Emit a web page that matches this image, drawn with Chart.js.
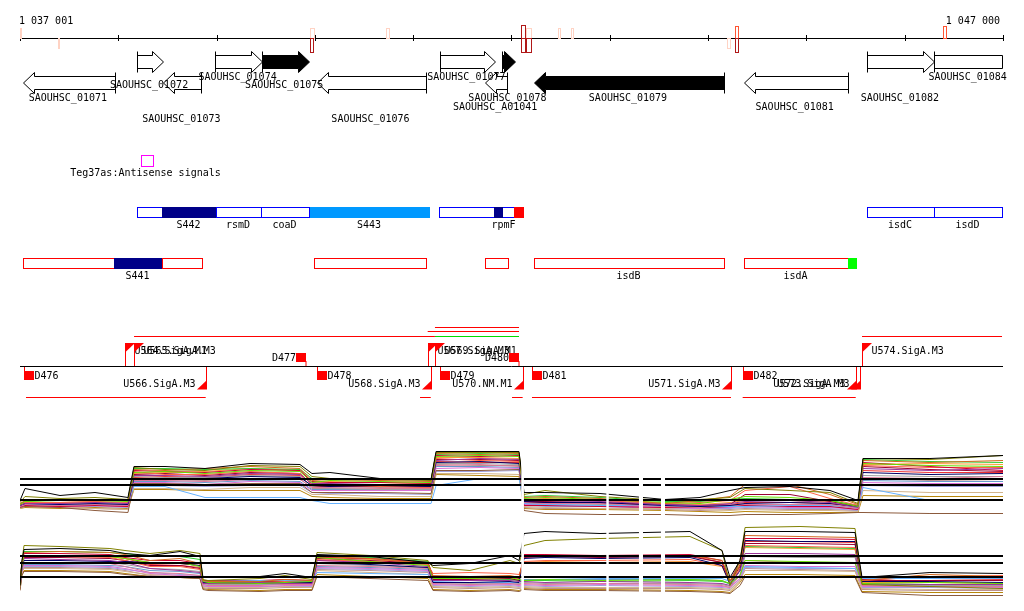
<!DOCTYPE html>
<html><head><meta charset="utf-8">
<script src="https://cdn.jsdelivr.net/npm/chart.js@4"></script>
<style>html,body{margin:0;padding:0;background:#fff;}canvas{display:block;}</style>
</head><body>
<canvas id="c" width="1024" height="611"></canvas>
<script>
// ---------------- DATA ----------------
const viewStart = 1037001, viewEnd = 1047000;
const axisTicks = [1037001,1038000,1039000,1040000,1041000,1042000,1043000,1044000,1045000,1046000,1047000];
const axisLabels = ['1 037 001', '1 047 000'];

// small signal marks along the coordinate axis
const markStart = [1037006,1037383,1039946,1039954,1040724,1042097,1042097,1042148,1042148,1042474,1042603,1044190,1044277,1044277,1046393];
const markEnd   = [1037016,1037393,1039984,1039984,1040751,1042138,1042138,1042196,1042196,1042494,1042626,1044223,1044312,1044312,1046427];
const markSide  = [1,-1,1,-1,1,1,-1,1,-1,1,1,-1,1,-1,1];
const markLevel = ['pale','pale','pale','dark','pale','dark','dark','pale','dark','pale','pale','pale','red','dark','red'];

// genes
const geneNames  = ['SAOUHSC_01071','SAOUHSC_01072','SAOUHSC_01073','SAOUHSC_01074','SAOUHSC_01075','SAOUHSC_01076','SAOUHSC_01077','SAOUHSC_A01041','SAOUHSC_01078','SAOUHSC_01079','SAOUHSC_01081','SAOUHSC_01082','SAOUHSC_01084'];
const geneStart  = [1037032,1038194,1038459,1038988,1039460,1040019,1041270,1041731,1041907,1042232,1044363,1045620,1046301];
const geneEnd    = [1037964,1038453,1038845,1039460,1039938,1041134,1041833,1041958,1042033,1044159,1045420,1046301,1047450];
const geneStrand = [-1,1,-1,1,1,-1,1,-1,1,-1,-1,1,1];
const geneHighlighted = [0,0,0,0,1,0,0,0,1,1,0,0,0];

// antisense signals
const asStart = [1038235], asEnd = [1038351], asLabel = ['Teg37as:Antisense signals'];

// annotated features (sense row = 1, antisense row = -1)
const featStart  = [1038194,1038445,1038992,1039456,1039951,1041266,1041823,1041823,1042029,1045620,1046301, 1037035,1037957,1038445,1039995,1041734,1042232,1044363,1045420];
const featEnd    = [1038445,1038992,1039456,1039938,1041158,1041823,1042029,1041904,1042114,1046301,1046993, 1037957,1038445,1038849,1041134,1041962,1044159,1045420,1045505];
const featStrand = [1,1,1,1,1,1,1,1,1,1,1, -1,-1,-1,-1,-1,-1,-1,-1];
const featKind   = ['plain','dark','plain','plain','light','plain','plain','dark','red','plain','plain', 'plain','dark','plain','plain','plain','plain','plain','green'];
const featLabel  = ['','S442','rsmD','coaD','S443','','rpmF','','','isdC','isdD', '','S441','','','','isdB','isdA',''];

// transcription units
const tuStart = [1038161,1041222,1045566,1041148,1041222,1037062,1041070,1042006,1042209,1044352];
const tuEnd   = [1041222,1042077,1046990,1042077,1042077,1038890,1041179,1042114,1044233,1045502];
const tuLevel = [1,1,1,2,3,-1,-1,-1,-1,-1];
const tuKind  = ['red','green','red','red','red','red','red','red','red','red'];

// promoters
const promPos    = [1038072,1038164,1041151,1041222,1045566,1038890,1041179,1042114,1044233,1045502,1045545];
const promStrand = [1,1,1,1,1,-1,-1,-1,-1,-1,-1];
const promLabel  = ['U564.SigA.M1','U565.SigA.M3','U567.SigA.M3','U569.SigA.M1','U574.SigA.M3','U566.SigA.M3','U568.SigA.M3','U570.NM.M1','U571.SigA.M3','U572.SigA.M3','U573.SigA.M3'];

// terminators
const termPos    = [1039910,1042077,1037045,1040022,1041273,1042209,1044358];
const termStrand = [1,1,-1,-1,-1,-1,-1];
const termLabel  = ['D477','D480','D476','D478','D479','D481','D482'];

// probe gaps (no data)
const gapStart = [1042100,1042965,1043297,1043521];
const gapEnd   = [1042127,1042990,1043338,1043562];

// expression thresholds
const topThresholds = [10.15, 9.55, 8.05];
const botThresholds = [10.25, 9.55, 8.15];

// expression profiles, panel 1 (sense)
const topX = [1037001,1037052,1037408,1037764,1038099,1038160,1038476,1038883,1039341,1039849,1039971,1040154,1040663,1041182,1041233,1041680,1042077,1042128,1042341,1042901,1043562,1043918,1044223,1044376,1044833,1045240,1045525,1045576,1046257,1047000];
const topBlack   = [8.0,9.2,8.5,8.8,8.3,11.4,11.4,11.2,11.7,11.6,10.7,10.8,10.2,10.1,12.9,12.9,12.9,8.8,8.8,8.7,8.1,8.3,9.0,9.3,9.4,9.0,8.0,12.2,12.2,12.5];
const topOlive   = [7.8,8.4,8.2,8.3,8.1,11.3,11.1,11.0,11.5,11.4,10.4,10.2,10.1,10.0,12.8,12.8,12.8,8.6,9.0,8.4,8.0,8.1,8.3,9.2,9.0,8.8,7.7,12.2,12.1,12.5];
const topChoco   = [7.7,8.0,8.0,8.1,8.0,11.1,11.0,11.2,11.4,11.2,10.0,10.1,10.0,9.9,12.7,12.6,12.7,8.3,8.4,8.2,7.7,8.0,8.4,9.6,9.6,8.6,7.6,12.0,11.8,12.0];
const topGreen   = [7.6,7.9,8.0,8.0,7.9,10.8,10.9,10.7,11.0,10.9,9.8,10.0,9.9,9.8,12.4,12.5,12.4,8.2,8.3,8.1,7.8,7.7,8.1,8.4,8.3,8.0,7.4,11.7,11.5,11.4];
const topPurple  = [7.5,7.7,7.7,7.8,7.7,10.5,10.5,10.4,10.7,10.6,9.7,9.7,9.6,9.5,12.0,12.2,12.1,8.0,8.0,7.9,7.6,7.5,7.7,7.9,8.0,7.8,7.3,11.2,11.0,11.2];
const topNavy    = [7.5,7.7,7.6,7.7,7.6,10.2,10.2,10.2,10.4,10.3,9.5,9.4,9.5,9.4,11.8,11.9,11.7,7.9,7.8,7.8,7.5,7.4,7.5,7.7,7.8,7.7,7.4,10.8,10.6,10.7];
const topPink    = [7.4,7.6,7.5,7.6,7.5,10.0,10.0,9.9,10.1,10.1,9.3,9.3,9.2,9.2,11.5,11.6,11.4,7.8,7.7,7.7,7.4,7.3,7.6,7.6,7.6,7.6,7.2,10.3,10.2,10.4];
const topSky     = [7.5,7.6,7.6,7.7,7.7,9.4,9.4,8.3,8.3,8.3,8.0,7.7,7.7,7.7,9.5,10.2,10.2,7.7,7.6,7.5,7.5,7.4,7.4,7.4,7.5,7.5,7.3,9.3,8.0,8.0];
const topCrimson = [7.4,7.5,7.4,7.5,7.4,11.0,10.9,10.8,11.1,11.0,9.9,9.8,9.8,9.7,12.5,12.4,12.5,7.5,7.5,7.4,7.3,7.3,7.4,7.5,7.4,7.4,7.1,11.8,11.4,11.0];
const topBrown   = [7.3,7.4,7.3,7.0,6.8,9.7,9.7,9.6,9.7,9.7,8.8,8.8,8.8,8.7,11.0,11.0,11.1,7.0,6.7,6.6,6.6,6.5,6.5,6.6,6.6,6.7,6.8,6.8,6.7,6.7];
const topSalmon  = [7.6,7.8,7.8,7.9,7.8,10.9,10.6,10.6,10.9,10.7,9.6,9.6,9.4,9.3,12.2,12.0,11.9,8.1,8.1,8.0,7.7,7.8,8.0,9.0,9.4,8.2,7.5,11.5,11.3,11.3];
const topOrchid  = [7.3,7.5,7.4,7.5,7.4,9.8,9.8,9.6,9.9,9.8,9.0,9.0,9.0,9.0,11.2,11.3,11.2,7.6,7.5,7.5,7.3,7.2,7.3,7.4,7.3,7.3,7.1,9.8,9.7,9.7];
const topGray    = [7.4,7.5,7.5,7.6,7.5,10.4,10.3,10.3,10.5,10.4,9.4,9.2,9.1,9.1,11.7,11.7,11.6,7.7,7.7,7.6,7.5,7.4,7.5,7.6,7.6,7.5,7.2,10.5,10.4,10.4];
const topTan     = [7.2,7.4,7.3,7.2,7.1,9.2,9.2,9.1,9.3,9.3,8.6,8.6,8.4,8.4,10.7,10.7,10.6,7.4,7.3,7.2,7.2,7.1,7.0,7.1,7.0,7.0,6.9,9.0,8.8,8.8];
const topMaroon  = [7.5,7.6,7.5,7.6,7.5,10.6,10.7,10.5,10.8,10.7,9.6,9.5,9.5,9.4,12.1,12.1,12.0,7.9,7.9,7.8,7.6,7.5,7.6,8.6,8.6,7.9,7.4,11.4,11.1,10.9];
const topLavender= [7.3,7.5,7.4,7.4,7.3,9.6,9.5,9.4,9.5,9.5,8.8,8.7,8.7,8.6,10.9,10.9,11.0,7.5,7.4,7.4,7.2,7.2,7.2,7.3,7.2,7.2,7.0,9.5,9.4,9.4];
const topLime    = [7.7,7.9,8.1,8.1,8.0,11.2,11.2,11.1,11.2,11.1,10.2,10.1,10.1,10.1,12.6,12.7,12.6,8.4,8.5,8.3,7.9,7.9,8.1,8.2,8.1,8.0,7.5,12.1,11.9,11.8];
const topOrange  = [7.6,7.8,7.8,7.9,7.7,10.7,10.8,10.9,11.2,11.0,9.8,9.9,9.8,9.7,12.3,12.3,12.2,8.1,8.2,8.0,7.7,7.6,7.8,8.0,8.0,7.9,7.5,11.6,11.7,11.6];
const topSteel   = [7.4,7.5,7.5,7.5,7.4,9.9,9.9,9.8,10.0,9.9,9.1,9.1,9.1,9.0,11.4,11.4,11.3,7.6,7.6,7.5,7.4,7.3,7.3,7.5,7.4,7.4,7.1,10.0,9.9,9.9];
const topRosy    = [7.3,7.4,7.3,7.2,7.1,10.1,10.1,10.0,10.2,10.2,9.2,9.2,9.3,9.2,11.6,11.5,11.5,7.3,7.2,7.2,7.1,7.0,7.1,7.2,7.1,7.1,7.0,10.2,10.0,10.1];
const topGold    = [7.2,7.3,7.2,7.3,7.2,9.1,9.1,9.0,9.0,9.0,8.4,8.3,8.2,8.2,10.6,10.5,10.4,7.2,7.1,7.1,7.0,6.9,6.8,6.9,6.8,6.8,6.8,8.5,8.4,8.4];
const topRed     = [7.5,7.7,7.7,7.8,7.6,10.3,10.4,10.3,10.6,10.5,9.4,9.4,9.4,9.3,11.9,11.8,11.8,7.8,7.8,7.7,7.5,7.5,7.6,7.8,7.8,7.7,7.3,11.0,10.8,10.8];

// expression profiles, panel 2 (antisense)
const botX = [1037001,1037021,1037042,1037408,1037916,1038069,1038323,1038629,1038832,1038862,1038913,1039442,1039697,1039971,1040022,1040561,1041151,1041202,1041578,1041985,1042077,1042128,1042341,1042901,1043816,1044142,1044223,1044325,1044376,1044935,1045495,1045566,1046257,1047000];
const botBlack   = [7.3,9.8,10.9,11.0,10.8,10.5,10.3,10.7,10.2,8.1,8.1,8.2,8.5,8.1,10.4,10.2,9.6,9.3,9.5,10.3,9.8,12.5,12.7,12.5,12.7,10.8,8.1,9.8,12.7,12.7,12.6,8.1,8.6,8.5];
const botOlive   = [7.2,9.8,11.3,11.2,11.0,10.8,10.5,10.8,10.5,7.9,7.8,8.0,8.3,7.9,10.6,10.3,9.8,9.1,8.8,9.8,9.5,11.3,11.8,12.0,12.2,10.8,7.3,9.8,13.1,13.2,13.0,7.4,7.2,7.0];
const botChoco   = [7.4,9.6,10.6,10.7,10.6,10.4,9.8,10.0,9.5,7.8,7.7,7.7,7.9,7.8,10.2,10.0,9.5,8.3,8.2,8.3,8.1,10.2,10.3,10.2,10.3,9.8,7.8,9.3,12.3,12.2,12.1,7.8,8.4,8.2];
const botGreen   = [7.5,9.3,10.3,10.2,10.2,10.0,9.6,9.6,9.2,7.7,7.6,7.5,7.6,7.7,10.1,9.7,9.3,8.0,8.0,8.1,7.9,7.8,7.9,7.8,7.9,7.8,7.5,8.3,9.8,9.7,9.6,7.5,7.6,7.5];
const botPurple  = [7.3,9.2,10.0,9.9,9.8,9.6,9.0,8.8,8.6,7.5,7.5,7.6,7.5,7.5,9.8,9.6,9.2,7.8,7.8,7.8,7.7,7.7,7.6,7.7,7.6,7.5,7.3,8.8,10.5,10.5,10.4,7.5,7.4,7.4];
const botNavy    = [7.4,9.1,9.8,9.8,9.7,9.7,9.6,9.5,9.3,7.6,7.6,7.5,7.6,7.6,9.6,9.4,9.1,7.6,7.6,7.7,7.6,10.0,10.1,10.0,10.1,9.3,7.4,8.8,11.8,11.7,11.7,7.7,7.7,7.6];
const botPink    = [7.2,9.0,9.5,9.5,9.5,9.2,8.6,8.5,8.3,7.4,7.3,7.3,7.4,7.4,9.3,9.2,9.0,7.5,7.4,7.5,7.4,7.5,7.4,7.5,7.4,7.3,7.1,8.3,9.8,9.6,9.6,7.3,7.2,7.2];
const botSky     = [7.8,8.1,8.1,8.1,8.1,8.1,8.1,8.1,8.1,7.7,7.7,7.8,7.8,7.7,8.6,8.5,8.4,7.7,7.6,7.6,7.6,8.1,8.1,8.0,8.0,8.0,7.7,8.3,9.2,9.1,9.0,8.0,8.0,8.0];
const botCrimson = [7.3,9.6,10.5,10.5,10.4,10.1,9.8,9.8,9.5,7.8,7.8,7.8,7.9,7.8,10.1,10.0,9.6,8.2,8.1,8.2,8.0,10.4,10.4,10.3,10.4,9.8,7.7,9.8,12.0,12.0,11.9,7.9,8.1,8.1];
const botBrown   = [6.8,8.3,8.7,8.7,8.6,8.4,8.2,8.1,8.0,6.9,6.8,6.7,6.8,6.8,8.2,8.0,7.8,6.8,6.7,6.8,6.7,6.9,6.8,6.8,6.7,6.6,6.5,7.3,8.2,8.2,8.1,6.6,6.3,6.3];
const botSalmon  = [7.4,9.5,10.2,10.2,10.1,9.8,9.2,9.2,8.9,7.6,7.6,7.6,7.7,7.6,9.9,9.7,9.4,8.5,8.6,8.5,8.4,9.7,9.8,9.8,9.9,9.3,7.6,9.0,11.3,11.2,11.1,7.8,8.2,8.3];
const botOrchid  = [7.1,8.8,9.3,9.3,9.2,9.0,8.5,8.3,8.2,7.3,7.2,7.2,7.3,7.3,9.1,9.0,8.8,7.4,7.3,7.4,7.3,7.4,7.3,7.4,7.3,7.2,7.1,8.0,9.3,9.2,9.2,7.2,7.2,7.1];
const botGray    = [7.2,9.0,9.6,9.6,9.6,9.4,9.0,8.9,8.7,7.5,7.4,7.4,7.5,7.4,9.5,9.3,9.1,7.6,7.5,7.6,7.5,7.6,7.5,7.5,7.5,7.4,7.2,8.4,10.2,10.1,10.1,7.4,7.3,7.3];
const botTan     = [7.0,8.6,9.0,9.0,8.9,8.7,8.4,8.3,8.1,7.2,7.1,7.1,7.2,7.1,8.8,8.6,8.4,7.2,7.1,7.2,7.1,7.2,7.1,7.1,7.1,7.0,6.9,7.8,8.8,8.8,8.7,7.0,6.9,6.9];
const botMaroon  = [7.3,9.4,10.1,10.1,10.0,9.8,9.3,9.3,9.0,7.7,7.6,7.7,7.7,7.7,10.0,9.8,9.5,7.9,7.9,8.0,7.8,10.1,10.2,10.1,10.2,9.6,7.6,9.2,11.5,11.5,11.4,7.8,7.8,7.8];
const botLavender= [7.1,8.7,9.2,9.2,9.1,8.9,8.6,8.4,8.3,7.2,7.2,7.2,7.2,7.2,9.0,8.9,8.7,7.3,7.2,7.3,7.2,7.3,7.2,7.3,7.2,7.1,7.0,8.0,9.1,9.0,9.0,7.1,7.1,7.0];
const botLime    = [7.4,9.6,10.7,10.7,10.6,10.5,10.2,10.2,9.9,7.7,7.6,7.7,7.8,7.7,10.3,10.1,9.7,7.9,7.8,7.9,7.8,7.8,7.8,7.7,7.8,7.7,7.5,8.8,11.2,11.1,11.0,7.4,7.4,7.3];
const botOrange  = [7.3,9.4,10.3,10.3,10.2,10.0,9.6,9.5,9.3,7.6,7.5,7.5,7.6,7.6,10.2,9.9,9.5,8.1,8.0,8.1,7.9,9.6,9.7,9.6,9.7,9.2,7.5,9.0,11.1,11.0,10.9,7.6,7.6,7.5];
const botSteel   = [7.2,8.9,9.4,9.4,9.3,9.2,8.8,8.7,8.5,7.4,7.3,7.4,7.4,7.4,9.2,9.1,8.9,7.5,7.4,7.5,7.4,7.9,7.9,7.9,7.9,7.8,7.4,8.3,9.6,9.5,9.5,7.6,7.6,7.6];
const botRosy    = [7.1,8.7,9.1,9.1,9.0,8.8,8.3,8.2,8.0,7.1,7.0,7.0,7.1,7.1,8.9,8.8,8.6,7.1,7.0,7.1,7.0,7.1,7.0,7.0,7.0,6.9,6.8,7.8,9.0,8.9,8.8,6.9,6.8,6.8];
const botGold    = [6.9,8.4,8.8,8.8,8.7,8.5,8.2,8.1,8.0,7.0,6.9,6.8,6.9,6.9,8.4,8.2,8.0,6.9,6.8,6.9,6.8,7.0,6.9,6.9,6.8,6.7,6.6,7.6,8.4,8.4,8.3,6.7,6.6,6.6];
const botRed     = [7.3,9.5,10.2,10.2,10.2,10.0,9.4,9.3,9.1,7.6,7.5,7.6,7.6,7.6,9.8,9.7,9.4,8.0,8.1,8.0,7.9,10.3,10.3,10.2,10.3,9.6,7.6,9.4,11.7,11.7,11.6,7.7,7.8,7.9];

// ---------------- STYLE ----------------
const seriesColors = ['#000000','#808000','#D2691E','#66DD00','#993399','#000066','#DD7799','#66B2FF','#CC0033','#8B5A3C','#FF6347','#DA70D6','#A0A0A0','#D2B48C','#990033','#A0A0DD','#33CC33','#FF9933','#6699CC','#BC8F8F','#B8860B','#EE3333'];
const topSeries = [topBlack,topOlive,topChoco,topGreen,topPurple,topNavy,topPink,topSky,topCrimson,topBrown,topSalmon,topOrchid,topGray,topTan,topMaroon,topLavender,topLime,topOrange,topSteel,topRosy,topGold,topRed];
const botSeries = [botBlack,botOlive,botChoco,botGreen,botPurple,botNavy,botPink,botSky,botCrimson,botBrown,botSalmon,botOrchid,botGray,botTan,botMaroon,botLavender,botLime,botOrange,botSteel,botRosy,botGold,botRed];

const FONT = '10px "DejaVu Sans Mono", monospace';
const LABEL_BASE = {'SAOUHSC_01071':101,'SAOUHSC_01072':88,'SAOUHSC_01073':121.5,'SAOUHSC_01074':79.5,'SAOUHSC_01075':88,'SAOUHSC_01076':121.5,'SAOUHSC_01077':79.5,'SAOUHSC_A01041':110,'SAOUHSC_01078':101,'SAOUHSC_01079':101,'SAOUHSC_01081':110,'SAOUHSC_01082':101,'SAOUHSC_01084':79.5};
const MARK_STYLE = {pale:{c:'#FFD3C4',a:[28,38],b:[38,48]}, red:{c:'#FF5533',a:[26,38],b:[38,52]}, dark:{c:'#B01818',a:[25,38],b:[38,52]}};
const FEAT_FILL = {plain:'#FFFFFF', dark:'#000088', light:'#0099FF', red:'#FF0000', green:'#00FF00'};
const TU_Y = {'1':336.5,'2':331.5,'3':327.5,'-1':397.5};

const trackPlugin = {
  id: 'tracks',
  afterDatasetsDraw(chart) {
    const ctx = chart.ctx, xs = chart.scales.x;
    const X = g => xs.getPixelForValue(g);
    const S = v => Math.round(v) + 0.5;
    const line = (x1,y1,x2,y2) => { ctx.beginPath(); ctx.moveTo(x1,y1); ctx.lineTo(x2,y2); ctx.stroke(); };
    ctx.save();
    // gaps
    ctx.fillStyle = '#fff';
    gapStart.forEach((g,i) => { const a = X(g), b = X(gapEnd[i]); ctx.fillRect(a, 438, b - a, 173); });
    ctx.font = FONT; ctx.textBaseline = 'alphabetic';
    ctx.lineWidth = 1; ctx.strokeStyle = '#000'; ctx.fillStyle = '#000';
    const L = X(viewStart), R = X(viewEnd);
    // axis
    line(L, 38.5, R, 38.5);
    axisTicks.forEach(t => { const x = S(X(t)); line(x, 35, x, 41); });
    ctx.textAlign = 'left'; ctx.fillText(axisLabels[0], L - 1, 24);
    ctx.textAlign = 'right'; ctx.fillText(axisLabels[1], R - 3, 24);
    // axis marks
    markStart.forEach((s,i) => {
      const st = MARK_STYLE[markLevel[i]];
      const x0 = S(X(s)), w = Math.max(1, Math.round(X(markEnd[i]) - X(s)));
      const yy = markSide[i] > 0 ? st.a : st.b;
      ctx.strokeStyle = st.c;
      ctx.strokeRect(x0, yy[0] + 0.5, w, yy[1] - yy[0]);
    });
    // genes
    ctx.strokeStyle = '#000'; ctx.lineWidth = 1;
    geneNames.forEach((name,i) => {
      const fwd = geneStrand[i] > 0;
      let x0 = X(geneStart[i]), x1 = X(geneEnd[i]);
      const trunc = geneEnd[i] > viewEnd;
      if (trunc) x1 = X(viewEnd) - 1;
      x0 = Math.round(x0) + 0.5; x1 = Math.round(x1) + 0.5;
      const top = fwd ? 51.5 : 72.5, bot = top + 21, bT = top + 4, bB = top + 17, mid = top + 10.5;
      const head = trunc ? 0 : Math.min(11, x1 - x0);
      ctx.beginPath();
      if (fwd) {
        const xh = x1 - head;
        ctx.moveTo(x0, bT); ctx.lineTo(xh, bT);
        if (head > 0) { ctx.lineTo(xh, top); ctx.lineTo(x1, mid); ctx.lineTo(xh, bot); ctx.lineTo(xh, bB); }
        else { ctx.lineTo(x1, bB); }
        ctx.lineTo(x0, bB); ctx.closePath();
      } else {
        const xh = x0 + head;
        ctx.moveTo(x1, bT); ctx.lineTo(xh, bT); ctx.lineTo(xh, top); ctx.lineTo(x0, mid);
        ctx.lineTo(xh, bot); ctx.lineTo(xh, bB); ctx.lineTo(x1, bB); ctx.closePath();
      }
      ctx.fillStyle = geneHighlighted[i] ? '#000' : '#fff';
      ctx.fill(); ctx.stroke();
      const xe = fwd ? x0 : x1;
      line(xe, top, xe, bot);
    });
    ctx.fillStyle = '#000'; ctx.textAlign = 'center';
    geneNames.forEach((name,i) => {
      const e = Math.min(geneEnd[i], viewEnd);
      const cx = (X(geneStart[i]) + X(e)) / 2 - 1;
      ctx.fillText(name, cx, LABEL_BASE[name]);
    });
    // antisense signals
    asStart.forEach((s,i) => {
      const x0 = S(X(s)), x1 = S(X(asEnd[i]));
      ctx.strokeStyle = '#FF00FF'; ctx.strokeRect(x0, 155.5, x1 - x0, 11);
      ctx.fillStyle = '#000'; ctx.textAlign = 'center';
      ctx.fillText(asLabel[i], (x0 + x1) / 2 - 2, 175.5);
    });
    // features
    featStart.forEach((s,i) => {
      const x0 = S(X(s)), x1 = S(X(featEnd[i]));
      const top = featStrand[i] > 0 ? 207.5 : 258.5;
      const border = featStrand[i] > 0 ? '#0000FF' : '#FF0000';
      const k = featKind[i];
      ctx.fillStyle = FEAT_FILL[k];
      ctx.fillRect(x0, top, x1 - x0, 10);
      ctx.strokeStyle = k === 'plain' ? border : FEAT_FILL[k];
      if (k === 'dark') ctx.strokeStyle = '#000088';
      ctx.strokeRect(x0, top, x1 - x0, 10);
      if (featLabel[i]) {
        ctx.fillStyle = '#000'; ctx.textAlign = 'center';
        ctx.fillText(featLabel[i], (x0 + x1) / 2 - 1, featStrand[i] > 0 ? 227.5 : 278.5);
      }
    });
    // regulation track baseline
    ctx.strokeStyle = '#000'; line(L, 366.5, R, 366.5);
    // transcription units
    tuStart.forEach((s,i) => {
      ctx.strokeStyle = tuKind[i] === 'green' ? '#00DD00' : '#FF0000';
      const y = TU_Y[String(tuLevel[i])];
      line(X(s), y, X(tuEnd[i]), y);
    });
    // promoters
    ctx.lineWidth = 1;
    promPos.forEach((p,i) => {
      const x = S(X(p));
      ctx.strokeStyle = '#FF0000'; ctx.fillStyle = '#FF0000';
      if (promStrand[i] > 0) {
        line(x, 366, x, 343);
        ctx.beginPath(); ctx.moveTo(x - 0.5, 343); ctx.lineTo(x + 9.5, 343); ctx.lineTo(x - 0.5, 352.5); ctx.closePath(); ctx.fill();
        ctx.fillStyle = '#000'; ctx.textAlign = 'left'; ctx.fillText(promLabel[i], x + 9, 354);
      } else {
        line(x, 367, x, 389);
        ctx.beginPath(); ctx.moveTo(x + 0.5, 389.5); ctx.lineTo(x - 9.5, 389.5); ctx.lineTo(x + 0.5, 380); ctx.closePath(); ctx.fill();
        ctx.fillStyle = '#000'; ctx.textAlign = 'right'; ctx.fillText(promLabel[i], x - 11, 386.5);
      }
    });
    // terminators
    termPos.forEach((p,i) => {
      const x = S(X(p));
      ctx.strokeStyle = '#FF0000'; ctx.fillStyle = '#FF0000';
      if (termStrand[i] > 0) {
        ctx.fillRect(x - 10.5, 353, 10, 9); line(x - 0.5, 361, x - 0.5, 366);
        ctx.fillStyle = '#000'; ctx.textAlign = 'right'; ctx.fillText(termLabel[i], x - 10.5, 360.5);
      } else {
        ctx.fillRect(x - 0.5, 371, 10, 9); line(x, 367, x, 371);
        ctx.fillStyle = '#000'; ctx.textAlign = 'left'; ctx.fillText(termLabel[i], x + 10, 379);
      }
    });
    ctx.restore();
  }
};

// ---------------- CHART ----------------
const pts = (xs, ys) => xs.map((x, i) => ({x: x, y: ys[i]}));
const datasets = [];
topThresholds.forEach(t => datasets.push({data:[{x:viewStart,y:t},{x:viewEnd,y:t}], borderColor:'#000', borderWidth:2, yAxisID:'yTop'}));
botThresholds.forEach(t => datasets.push({data:[{x:viewStart,y:t},{x:viewEnd,y:t}], borderColor:'#000', borderWidth:2, yAxisID:'yBot'}));
topSeries.forEach((s,i) => datasets.push({data: pts(topX, s), borderColor: seriesColors[i], borderWidth: 1, yAxisID:'yTop'}));
botSeries.forEach((s,i) => datasets.push({data: pts(botX, s), borderColor: seriesColors[i], borderWidth: 1, yAxisID:'yBot'}));

new Chart(document.getElementById('c'), {
  type: 'line',
  data: { datasets: datasets },
  options: {
    responsive: false, animation: false, devicePixelRatio: 1, events: [],
    layout: { padding: { left: 20, right: 21, top: 0, bottom: 0 } },
    plugins: { legend: { display: false }, tooltip: { enabled: false } },
    elements: { point: { radius: 0 }, line: { tension: 0, fill: false } },
    scales: {
      x: { type: 'linear', min: viewStart, max: viewEnd, display: false },
      yTop: { type: 'linear', min: -3.05, max: 58.05, display: false },
      yBot: { type: 'linear', min: 4.75, max: 65.85, display: false }
    }
  },
  plugins: [trackPlugin]
});
</script>
</body></html>
